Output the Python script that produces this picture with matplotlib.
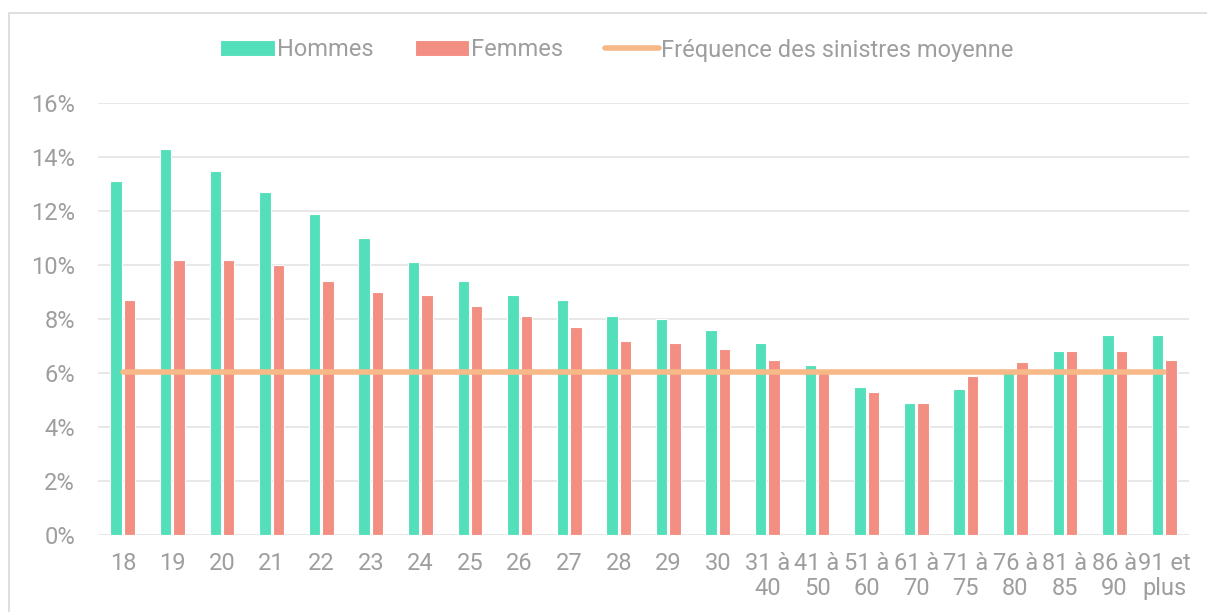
"""Fréquence des sinistres par âge et par sexe."""

import matplotlib.pyplot as plt
import matplotlib.ticker as ticker
import numpy as np
from matplotlib.patches import Rectangle

AGES = [
    "18", "19", "20", "21", "22", "23", "24", "25", "26", "27", "28", "29", "30",
    "31 à\n40", "41 à\n50", "51 à\n60", "61 à\n70", "71 à\n75", "76 à\n80",
    "81 à\n85", "86 à\n90", "91 et\nplus",
]
HOMMES = [13.1, 14.3, 13.5, 12.7, 11.9, 11.0, 10.1, 9.4, 8.9, 8.7, 8.1, 8.0, 7.6,
          7.1, 6.3, 5.5, 4.9, 5.4, 6.0, 6.8, 7.4, 7.4]
FEMMES = [8.7, 10.2, 10.2, 10.0, 9.4, 9.0, 8.9, 8.5, 8.1, 7.7, 7.2, 7.1, 6.9,
          6.5, 6.0, 5.3, 4.9, 5.9, 6.4, 6.8, 6.8, 6.5]
MOYENNE = 6.05
Y_TICKS = [0, 2, 4, 6, 8, 10, 12, 14, 16]

GREEN = "#53DFBA"
RED = "#F28E82"
ORANGE = "#F7B987"
TEXT = "#9E9E9E"
GRID = "#E4E4E4"

plt.rcParams["font.family"] = ["Roboto", "DejaVu Sans"]

W, H = 1207, 612
fig = plt.figure(figsize=(W / 100, H / 100), dpi=100)
ax = fig.add_axes([98 / W, 1 - 535 / H, (1189 - 98) / W, (535 - 103) / H])

x = np.arange(len(AGES))
bw = 0.23
b1 = ax.bar(x - 0.135, HOMMES, bw, color=GREEN, edgecolor="white", linewidth=0.8,
            label="Hommes", zorder=2)
b2 = ax.bar(x + 0.135, FEMMES, bw, color=RED, edgecolor="white", linewidth=0.8,
            label="Femmes", zorder=2)
(ln,) = ax.plot(x, [MOYENNE] * len(x), color=ORANGE, lw=4, solid_capstyle="round",
                label="Fréquence des sinistres moyenne", zorder=3)

ax.set_xlim(-0.5, len(AGES) - 0.5)
ax.set_ylim(0, 16)
ax.set_yticks(Y_TICKS)
ax.yaxis.set_major_formatter(ticker.FuncFormatter(lambda v, _: f"{v:.0f}%"))
ax.set_xticks(x)
ax.set_xticklabels(AGES, linespacing=1.15)
ax.tick_params(axis="both", length=0, labelsize=17, colors=TEXT)
ax.tick_params(axis="y", pad=16.5)
ax.tick_params(axis="x", pad=12)
ax.grid(axis="y", color=GRID, lw=1.2, zorder=0)
ax.set_axisbelow(True)
for s in ax.spines.values():
    s.set_visible(False)

fig.legend(
    [b1, b2, ln],
    ["Hommes", "Femmes", "Fréquence des sinistres moyenne"],
    loc="center",
    bbox_to_anchor=(617 / W, 1 - 50 / H),
    ncol=3,
    frameon=False,
    fontsize=17,
    handlelength=2.3,
    handleheight=0.65,
    handletextpad=0.1,
    columnspacing=1.75,
    labelcolor=TEXT,
)

# light chart-area border (cropped on the right and bottom)
fig.patches.append(Rectangle((9 / W, -0.1), 1.2, 1 - 13 / H + 0.1,
                             transform=fig.transFigure, fill=False,
                             edgecolor="#D9D9D9", lw=1.2))

fig.savefig("out.png", dpi=100)
